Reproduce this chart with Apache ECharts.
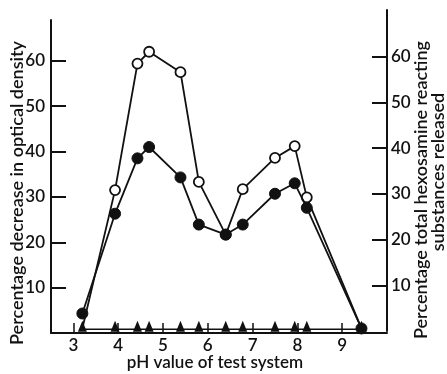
<!DOCTYPE html>
<html>
<head>
<meta charset="utf-8">
<script src="https://cdn.jsdelivr.net/npm/echarts@6/dist/echarts.min.js"></script>
<style>
  html, body { margin: 0; padding: 0; background: #fff; }
  #chart { width: 447px; height: 374px; }
</style>
</head>
<body>
<div id="chart"></div>
<script>
// pH of each sample
var ph = [3.2, 3.93, 4.43, 4.69, 5.39, 5.8, 6.4, 6.78, 7.5, 7.94, 8.21, 9.43];
// open circles - hexosamine substances released
var hexosamine = [1, 31.5, 59.4, 62, 57.5, 33.3, 21.7, 31.7, 38.6, 41.2, 29.9, 1];
// filled circles - decrease in optical density
var density = [4.3, 26.3, 38.5, 41, 34.3, 23.9, 21.7, 23.9, 30.7, 33, 27.6, 1];
// triangles - control
var control = [0.8, 0.8, 0.8, 0.8, 0.8, 0.8, 0.8, 0.8, 0.8, 0.8, 0.8, 0.8];

var xTicks = [3, 4, 5, 6, 7, 8, 9];
var yTicks = [10, 20, 30, 40, 50, 60];

function pairs(ys) {
    return ph.map(function (x, i) { return [x, ys[i]]; });
}

var font = 'Lato';
var ink = '#111';
var weight = 600;

var myChart = echarts.init(document.getElementById('chart'));

// open circle series: end points sit under other marks, no symbol there
var hexData = pairs(hexosamine).map(function (p, i) {
    if (i === 0 || i === ph.length - 1) {
        return { value: p, symbol: 'none' };
    }
    return p;
});

function vText(x, y, txt) {
    return {
        type: 'text', x: x, y: y, rotation: Math.PI / 2,
        style: { text: txt, font: weight + ' 18px ' + font, fill: ink, textAlign: 'center', textVerticalAlign: 'middle' }
    };
}

var option = {
    backgroundColor: '#fff',
    animation: false,
    textStyle: { fontFamily: font, color: ink },
    grid: [
        { left: 51, top: 20, right: 60, bottom: 41, outerBoundsMode: 'none' },
        { left: 51, top: 10, right: 60, bottom: 43, outerBoundsMode: 'none' }
    ],
    xAxis: [
        {
            gridIndex: 0,
            type: 'value',
            min: 2.5,
            max: 10,
            splitLine: { show: false },
            axisLine: { lineStyle: { color: ink, width: 2 } },
            axisTick: { inside: true, length: 10, customValues: xTicks, lineStyle: { color: ink, width: 1.5 } },
            axisLabel: { customValues: xTicks, fontSize: 17, fontWeight: weight, color: ink, fontFamily: font, margin: 4 }
        },
        {
            gridIndex: 1,
            type: 'value',
            min: 2.5,
            max: 10,
            show: false
        }
    ],
    yAxis: [
        {
            gridIndex: 0,
            type: 'value',
            min: 0,
            max: 69,
            splitLine: { show: false },
            axisLine: { show: true, lineStyle: { color: ink, width: 2 } },
            axisTick: { inside: true, length: 15, customValues: yTicks, lineStyle: { color: ink, width: 2 } },
            axisLabel: { customValues: yTicks, fontSize: 17, fontWeight: weight, color: ink, fontFamily: font, margin: 6 }
        },
        {
            gridIndex: 1,
            type: 'value',
            position: 'right',
            min: 0,
            max: 70.2,
            splitLine: { show: false },
            axisLine: { show: true, lineStyle: { color: ink, width: 2 } },
            axisTick: { inside: true, length: 15, customValues: yTicks, lineStyle: { color: ink, width: 2 } },
            axisLabel: { customValues: yTicks, fontSize: 17, fontWeight: weight, color: ink, fontFamily: font, margin: 4 }
        }
    ],
    graphic: [
        vText(17, 193, 'Percentage decrease in optical density'),
        vText(421, 190, 'Percentage total hexosamine reacting'),
        vText(438, 172, 'substances released'),
        {
            type: 'text', x: 215, y: 363,
            style: { text: 'pH value of test system', font: weight + ' 17px ' + font, fill: ink, textAlign: 'center', textVerticalAlign: 'middle' }
        }
    ],
    series: [
        {
            name: 'control',
            type: 'line',
            data: pairs(control),
            symbol: 'triangle',
            symbolSize: [9, 11],
            symbolOffset: [0, -3],
            lineStyle: { color: ink, width: 1.5 },
            itemStyle: { color: ink },
            z: 2
        },
        {
            name: 'hexosamine',
            type: 'line',
            data: hexData,
            symbol: 'circle',
            symbolSize: 10,
            lineStyle: { color: ink, width: 1.8 },
            itemStyle: { color: '#fff', borderColor: ink, borderWidth: 1.8 },
            z: 3
        },
        {
            name: 'density',
            type: 'line',
            data: pairs(density),
            symbol: 'circle',
            symbolSize: 11,
            lineStyle: { color: ink, width: 1.8 },
            itemStyle: { color: ink, borderColor: ink },
            z: 4
        }
    ]
};

myChart.setOption(option);
</script>
</body>
</html>
